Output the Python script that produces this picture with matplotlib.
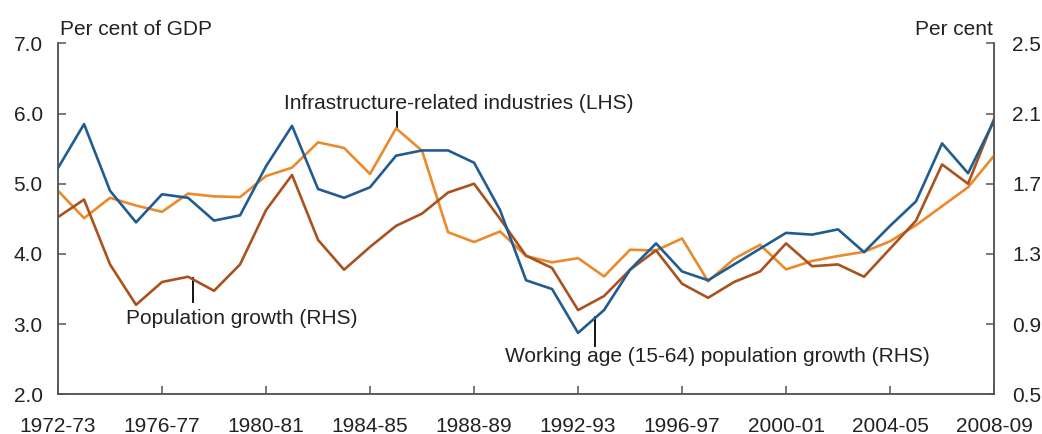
import matplotlib.pyplot as plt

years = ["1972-73", "1973-74", "1974-75", "1975-76", "1976-77", "1977-78", "1978-79",
         "1979-80", "1980-81", "1981-82", "1982-83", "1983-84", "1984-85", "1985-86",
         "1986-87", "1987-88", "1988-89", "1989-90", "1990-91", "1991-92", "1992-93",
         "1993-94", "1994-95", "1995-96", "1996-97", "1997-98", "1998-99", "1999-00",
         "2000-01", "2001-02", "2002-03", "2003-04", "2004-05", "2005-06", "2006-07",
         "2007-08", "2008-09"]

# Per cent of GDP (LHS)
infrastructure = [4.90, 4.51, 4.80, 4.69, 4.60, 4.86, 4.82, 4.81, 5.11, 5.23,
                  5.59, 5.51, 5.14, 5.79, 5.47, 4.31, 4.17, 4.32, 3.97, 3.88,
                  3.94, 3.68, 4.06, 4.05, 4.22, 3.61, 3.93, 4.13, 3.78, 3.90,
                  3.97, 4.03, 4.18, 4.41, 4.68, 4.95, 5.40]

# Per cent (RHS)
working_age = [1.79, 2.04, 1.66, 1.48, 1.64, 1.62, 1.49, 1.52, 1.80, 2.03,
               1.67, 1.62, 1.68, 1.86, 1.89, 1.89, 1.82, 1.55, 1.15, 1.10,
               0.85, 0.98, 1.21, 1.36, 1.20, 1.15, 1.24, 1.33, 1.42, 1.41,
               1.44, 1.31, 1.46, 1.60, 1.93, 1.76, 2.06]

population = [1.51, 1.61, 1.24, 1.01, 1.14, 1.17, 1.09, 1.24, 1.55, 1.75,
              1.38, 1.21, 1.34, 1.46, 1.53, 1.65, 1.70, 1.50, 1.29, 1.22,
              0.98, 1.06, 1.21, 1.32, 1.13, 1.05, 1.14, 1.20, 1.36, 1.23,
              1.24, 1.17, 1.33, 1.49, 1.81, 1.70, 2.07]

left_ticks = [2.0, 3.0, 4.0, 5.0, 6.0, 7.0]
right_ticks = [0.5, 0.9, 1.3, 1.7, 2.1, 2.5]

plt.rcParams['font.family'] = ['Liberation Sans', 'DejaVu Sans']
txt = '#222222'
axc = '#555555'
fs = 15

fig = plt.figure(figsize=(10.42, 4.34), dpi=100)
ax = fig.add_axes([0.0557, 0.0915, 0.8983, 0.8085])
ax2 = ax.twinx()

x = list(range(len(years)))
ax.plot(x, infrastructure, color='#ea8a2b', lw=1.9, zorder=3)
ax2.plot(x, population, color='#a9521f', lw=1.9)
ax2.plot(x, working_age, color='#215c91', lw=1.9)

ax.set_xlim(0, len(years) - 1)
ax.set_ylim(2, 7)
ax2.set_ylim(0.5, 2.5)
ax.set_yticks(left_ticks)
ax.set_yticklabels([f"{v:.1f}" for v in left_ticks])
ax2.set_yticks(right_ticks)
ax2.set_yticklabels([f"{v:.1f}" for v in right_ticks])
ax.set_xticks(x[::4])
ax.set_xticklabels(years[::4])

for a in (ax, ax2):
    a.spines['top'].set_visible(False)
    for s in ('left', 'right', 'bottom'):
        a.spines[s].set_color(axc)
        a.spines[s].set_linewidth(1.1)
    a.tick_params(direction='in', length=5.5, width=1.1, color=axc,
                  labelsize=fs, labelcolor=txt)
ax.tick_params(axis='x', pad=16)
ax.tick_params(axis='y', pad=11)
ax2.tick_params(axis='y', pad=13)

fig.text(0.058, 0.919, "Per cent of GDP", fontsize=fs, color=txt, ha='left', va='baseline')
fig.text(0.953, 0.919, "Per cent", fontsize=fs, color=txt, ha='right', va='baseline')

# annotations with pointer lines
ax.text(15.42, 6.14, "Infrastructure-related industries (LHS)", fontsize=fs, color=txt,
        ha='center', va='center')
ax.plot([13.05, 13.05], [5.8, 6.02], color='black', lw=1.3)

ax.text(7.06, 3.08, "Population growth (RHS)", fontsize=fs, color=txt,
        ha='center', va='center')
ax.plot([5.19, 5.19], [3.31, 3.65], color='black', lw=1.3)

ax.text(25.37, 2.54, "Working age (15-64) population growth (RHS)", fontsize=fs, color=txt,
        ha='center', va='center')
ax.plot([20.65, 20.65], [2.69, 3.1], color='black', lw=1.3)

fig.savefig("out.png", dpi=100)
